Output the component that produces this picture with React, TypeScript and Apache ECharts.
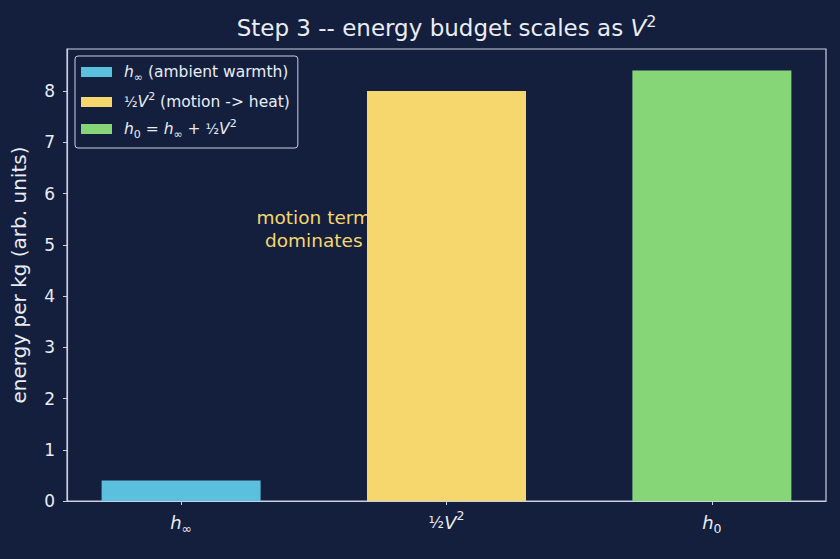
import React, { useEffect, useRef } from "react";
import * as echarts from "echarts";

const categories = ["h_inf", "half_V2", "h0"];
const seriesNames = ["h_inf", "half_V2", "h0"];
const values = [0.4, 8.0, 8.4];
const colors = ["#5bc0de", "#f5d76e", "#86d577"];
const yTicks = [0, 1, 2, 3, 4, 5, 6, 7, 8];
const xTicks = [0, 1, 2];
const yMax = 8.82;
const xMin = -0.43;
const xMax = 2.43;
const annotationPos = [0.5, 5.3];

const BG = "#141e3d";
const FG = "#e9edf5";
const SPINE = "#c9d1de";
const FONT = "DejaVu Sans";

const xLabelRich = {
  it: { fontStyle: "italic", fontSize: 18, color: FG, fontFamily: FONT, lineHeight: 26 },
  sub: { fontSize: 12.5, color: FG, fontFamily: FONT, verticalAlign: "bottom", lineHeight: 26 },
  sup: { fontSize: 12.5, color: FG, fontFamily: FONT, verticalAlign: "top", lineHeight: 26 },
  frac: { fontSize: 16, color: FG, fontFamily: FONT, lineHeight: 26 },
};

const xLabelText: Record<string, string> = {
  h_inf: "{it|h}{sub|∞}",
  half_V2: "{frac|½}{it|V}{sup|2}",
  h0: "{it|h}{sub|0}",
};

const legendText: Record<string, string> = {
  h_inf: "{it|h}{sub|∞}{t| (ambient warmth)}",
  half_V2: "{frac|½}{it|V}{sup|2}{t| (motion -> heat)}",
  h0: "{it|h}{sub|0}{t| = }{it|h}{sub|∞}{t| + }{frac|½}{it|V}{sup|2}",
};

const legendRich = {
  t: { fontSize: 15.5, color: FG, fontFamily: FONT, lineHeight: 22 },
  it: { fontSize: 15.5, fontStyle: "italic", color: FG, fontFamily: FONT, lineHeight: 22 },
  sub: { fontSize: 11, color: FG, fontFamily: FONT, verticalAlign: "bottom", lineHeight: 22 },
  sup: { fontSize: 11, color: FG, fontFamily: FONT, verticalAlign: "top", lineHeight: 22 },
  frac: { fontSize: 14, color: FG, fontFamily: FONT, lineHeight: 22 },
};

export default function App() {
  const ref = useRef<HTMLDivElement>(null);
  useEffect(() => {
    if (!ref.current) return;
    const chart = echarts.init(ref.current, null, { renderer: "svg" });
    const option: any = {
      animation: false,
      backgroundColor: BG,
      textStyle: { fontFamily: FONT },
      grid: {
        left: 67,
        right: 14,
        top: 49,
        bottom: 58,
        show: true,
        borderColor: SPINE,
        borderWidth: 1.2,
        backgroundColor: "transparent",
      },
      legend: {
        orient: "vertical",
        left: 75,
        top: 56,
        padding: [8, 8, 8, 6],
        itemGap: 8,
        itemWidth: 31,
        itemHeight: 10,
        icon: "rect",
        backgroundColor: BG,
        borderColor: SPINE,
        borderWidth: 1,
        borderRadius: 3,
        data: seriesNames,
        formatter: (name: string) => legendText[name],
        textStyle: { color: FG, fontSize: 15.5, fontFamily: FONT, rich: legendRich, padding: [0, 0, 0, 7] },
      },
      xAxis: {
        type: "value",
        min: xMin,
        max: xMax,
        splitLine: { show: false },
        axisLine: { show: true, onZero: false, lineStyle: { color: SPINE, width: 1.2 } },
        axisTick: { show: true, length: 4, lineStyle: { color: SPINE }, customValues: xTicks },
        axisLabel: {
          customValues: xTicks,
          margin: 8,
          formatter: (v: number) => xLabelText[categories[Math.round(v)]] ?? "",
          rich: xLabelRich,
        },
      },
      yAxis: {
        type: "value",
        min: 0,
        max: yMax,
        name: "energy per kg (arb. units)",
        nameLocation: "middle",
        nameGap: 38,
        nameTextStyle: { color: FG, fontSize: 20, fontFamily: FONT },
        splitLine: { show: false },
        axisLine: { show: true, onZero: false, lineStyle: { color: SPINE, width: 1.2 } },
        axisTick: { show: true, length: 4, lineStyle: { color: SPINE }, customValues: yTicks },
        axisLabel: { customValues: yTicks, color: FG, fontSize: 17, fontFamily: FONT, margin: 12 },
      },
      series: seriesNames.map((name, i) => ({
        name,
        type: "bar",
        barWidth: 159,
        barGap: "-100%",
        itemStyle: { color: colors[i] },
        data: [[i, values[i]]],
        z: 2,
      })),
    };
    chart.setOption(option);
    const p = chart.convertToPixel({ gridIndex: 0 }, annotationPos) as number[];
    const plotLeft = chart.convertToPixel({ xAxisIndex: 0 }, xMin) as number;
    const plotRight = chart.convertToPixel({ xAxisIndex: 0 }, xMax) as number;
    chart.setOption({
      graphic: [
        {
          type: "text",
          z: 0,
          x: (plotLeft + plotRight) / 2,
          y: 28,
          style: {
            text: "{t|Step 3 -- energy budget scales as }{it|V}{sup|2}",
            fill: FG,
            align: "center",
            verticalAlign: "middle",
            rich: {
              t: { fontSize: 23, fill: FG, fontFamily: FONT, lineHeight: 30 },
              it: { fontStyle: "italic", fontSize: 23, fill: FG, fontFamily: FONT, lineHeight: 30 },
              sup: { fontSize: 16, fill: FG, fontFamily: FONT, verticalAlign: "top", lineHeight: 30 },
            },
          },
        },
        {
          type: "text",
          z: 0,
          x: p[0],
          y: p[1],
          style: {
            text: "motion term\ndominates",
            fill: "#f5d76e",
            fontSize: 18.5,
            fontFamily: FONT,
            lineHeight: 23,
            align: "center",
            verticalAlign: "middle",
          },
        },
      ],
    });
    return () => chart.dispose();
  }, []);
  return <div ref={ref} style={{ width: 840, height: 559, position: "absolute", left: 0, top: 0 }} />;
}
